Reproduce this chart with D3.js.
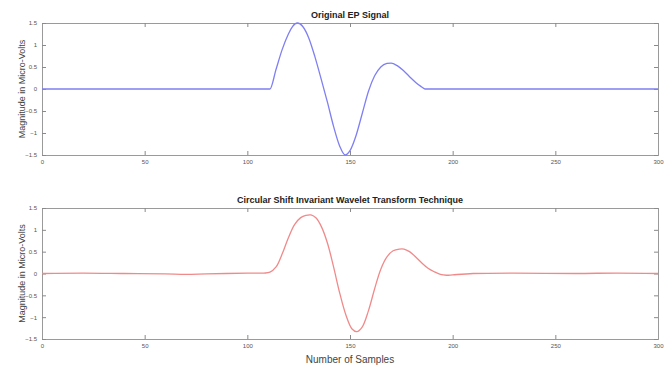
<!DOCTYPE html>
<html>
<head>
<meta charset="utf-8">
<script src="https://cdn.jsdelivr.net/npm/d3@7"></script>
<style>
  body { margin: 0; background: #fff; }
  text { font-family: "Liberation Sans", Arial, sans-serif; }
</style>
</head>
<body>
<div id="chart"></div>
<script>
// Data

var sampleTicks = [0, 50, 100, 150, 200, 250, 300];
var magTicks = [-1.5, -1, -0.5, 0, 0.5, 1, 1.5];

// original EP signal
var epSamples = [0, 60, 111, 114, 117, 120, 122, 124.4, 127, 130, 133, 136, 139, 142, 145, 147.6,
                 150, 153, 156, 159, 162, 165, 168, 170, 173, 176, 179, 182, 184.5, 186.5, 240, 300];
var epValues  = [0, 0, 0, 0.45, 0.9, 1.25, 1.42, 1.5, 1.42, 1.15, 0.72, 0.22, -0.3, -0.85, -1.3, -1.5,
                 -1.4, -1.05, -0.55, -0.05, 0.3, 0.5, 0.58, 0.59, 0.53, 0.42, 0.28, 0.15, 0.06, 0, 0, 0];

// denoised signal (bottom panel)
var cswtSamples = [0, 20, 40, 60, 70, 80, 100, 108, 111, 114, 117, 120, 123, 126, 128.5, 131, 133.5, 136,
                   139, 142, 145, 148, 151, 153.3, 156, 159, 162, 165, 168, 171, 174, 176.3, 179, 182,
                   185, 188, 191, 194, 197, 200, 210, 230, 260, 280, 300];
var cswtValues  = [0, 0.01, 0, -0.01, -0.02, -0.01, 0.01, 0.01, 0.03, 0.15, 0.45, 0.82, 1.12, 1.28, 1.33, 1.34, 1.27, 1.08,
                   0.7, 0.15, -0.45, -0.95, -1.27, -1.33, -1.22, -0.85, -0.35, 0.1, 0.38, 0.52, 0.56, 0.56, 0.5, 0.38,
                   0.24, 0.12, 0.04, -0.02, -0.04, -0.03, 0, 0.01, 0, 0.01, 0];

// Dimensions

var width = 672, height = 369;
var left = 42, right = 658;

var panels = [
  { title: "Original EP Signal", top: 23, bottom: 155, xs: epSamples, ys: epValues,
    color: "#7f7ff2", curve: d3.curveMonotoneX },
  { title: "Circular Shift Invariant Wavelet Transform Technique", top: 208, bottom: 339, xs: cswtSamples, ys: cswtValues,
    color: "#f08a8a", curve: d3.curveCatmullRom.alpha(0.5) }
];

var svg = d3.select("#chart")
  .append("svg")
  .attr("width", width)
  .attr("height", height);

var x = d3.scaleLinear().domain([0, 300]).range([left, right]);

panels.forEach(function(p) {
  var y = d3.scaleLinear().domain([-1.5, 1.5]).range([p.bottom, p.top]);
  var g = svg.append("g");
  var tickLen = 4;

  // ticks on all four sides, pointing inward (matlab style)
  g.append("g")
    .attr("transform", "translate(0," + p.bottom + ")")
    .call(d3.axisBottom(x).tickValues(sampleTicks).tickSize(-tickLen).tickPadding(5).tickFormat(d3.format("d")));
  g.append("g")
    .attr("transform", "translate(0," + p.top + ")")
    .call(d3.axisTop(x).tickValues(sampleTicks).tickSize(-tickLen).tickFormat(""));
  g.append("g")
    .attr("transform", "translate(" + left + ",0)")
    .call(d3.axisLeft(y).tickValues(magTicks).tickSize(-tickLen).tickPadding(5).tickFormat(d3.format("")));
  g.append("g")
    .attr("transform", "translate(" + right + ",0)")
    .call(d3.axisRight(y).tickValues(magTicks).tickSize(-tickLen).tickFormat(""));

  g.selectAll(".domain").attr("stroke", "#9a9a9a").attr("stroke-width", 1);
  g.selectAll(".tick line").attr("stroke", "#8a8a8a");
  g.selectAll(".tick text").attr("fill", "#555").style("font-size", "6px");

  // the signal
  var pts = d3.zip(p.xs, p.ys);
  var line = d3.line()
    .x(function(d) { return x(d[0]); })
    .y(function(d) { return y(d[1]); })
    .curve(p.curve);

  g.append("path")
    .attr("d", line(pts))
    .attr("fill", "none")
    .attr("stroke", p.color)
    .attr("stroke-width", 1.3);

  // title
  g.append("text")
    .attr("x", (left + right) / 2)
    .attr("y", p.top - 5)
    .attr("text-anchor", "middle")
    .style("font-size", "9px")
    .style("font-weight", "bold")
    .attr("fill", "#222")
    .text(p.title);

  // y label
  g.append("text")
    .attr("transform", "translate(25," + (p.top + p.bottom) / 2 + ") rotate(-90)")
    .attr("text-anchor", "middle")
    .style("font-size", "9px")
    .attr("fill", "#444")
    .text("Magnitude in Micro-Volts");
});

svg.append("text")
  .attr("x", (left + right) / 2)
  .attr("y", 363)
  .attr("text-anchor", "middle")
  .style("font-size", "10px")
  .attr("fill", "#444")
  .text("Number of Samples");
</script>
</body>
</html>
